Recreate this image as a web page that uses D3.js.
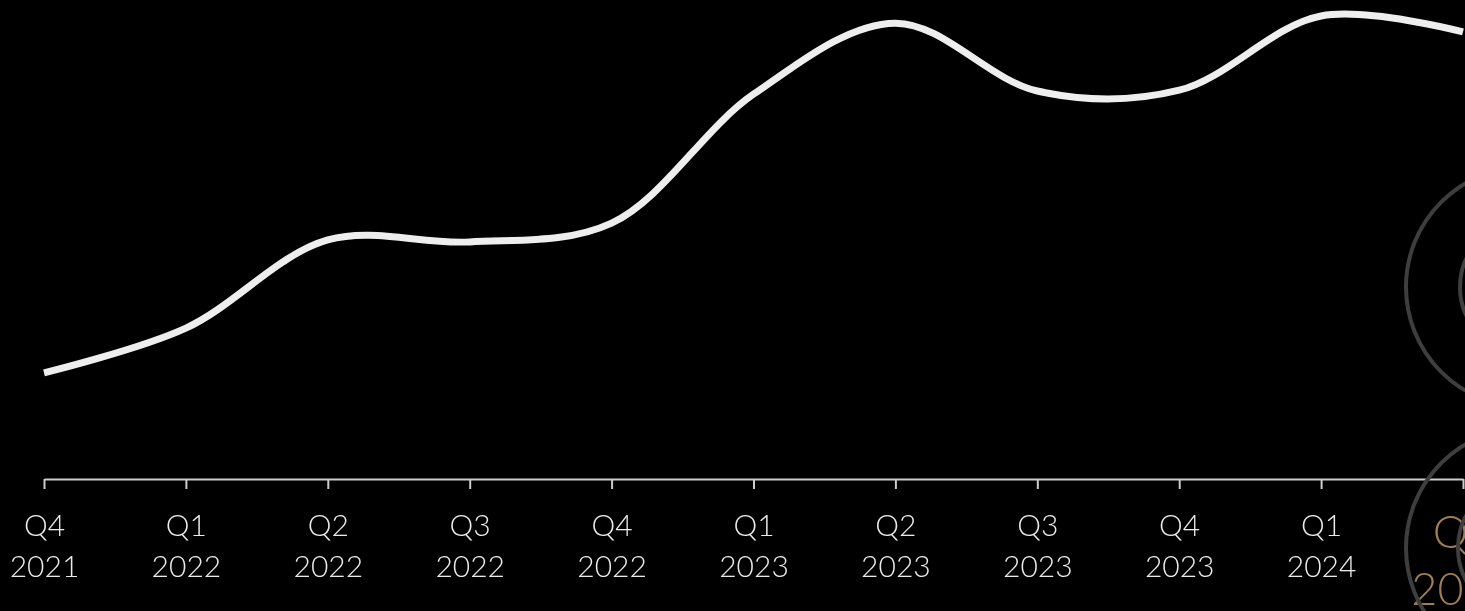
<!DOCTYPE html>
<html>
<head>
<meta charset="utf-8">
<script src="https://cdn.jsdelivr.net/npm/d3@7"></script>
<style>
  html, body { margin: 0; padding: 0; background: #000; overflow: hidden; }
  svg { display: block; }
  .tick text { font-family: Lato, "Open Sans", sans-serif; font-weight: 300; }
  .labels { opacity: 0.99; will-change: transform; }
</style>
</head>
<body>
<div id="chart"></div>
<script>
const quarters = ['Q4', 'Q1', 'Q2', 'Q3', 'Q4', 'Q1', 'Q2', 'Q3', 'Q4', 'Q1', 'Q2'];
const years = ['2021', '2022', '2022', '2022', '2022', '2023', '2023', '2023', '2023', '2024', '2024'];
const values = [26.6, 37.8, 59.9, 59.4, 64.1, 96.4, 114.2, 97.2, 97.4, 116.0, 112.0];

const width = 1465;
const height = 611;
const margin = { left: 44, right: 2, top: 0, bottom: 132 };

const keys = quarters.map((q, i) => q + ' ' + years[i]);
const data = keys.map((k, i) => ({ key: k, value: values[i] }));

const svg = d3.select('#chart').append('svg')
    .attr('width', width)
    .attr('height', height);

const x = d3.scalePoint()
    .domain(keys)
    .range([margin.left, width - margin.right]);

const y = d3.scaleLinear()
    .domain([0, 120])
    .range([height - margin.bottom, margin.top]);

// axis
const axis = svg.append('g')
    .attr('class', 'labels')
    .attr('transform', `translate(0,${height - margin.bottom})`)
    .call(d3.axisBottom(x).tickSize(10).tickSizeOuter(0).tickFormat(''));

axis.select('.domain').attr('stroke', '#d0d0d0').attr('stroke-width', 2);
axis.selectAll('.tick line').attr('stroke', '#d0d0d0').attr('stroke-width', 2);

const last = keys[keys.length - 1];

axis.selectAll('.tick text').remove();
axis.selectAll('.tick').each(function(d, i) {
    const isLast = d === last;
    const t = d3.select(this).append('text')
        .attr('text-anchor', 'middle')
        .attr('fill', isLast ? '#a27f57' : '#eeeeee')
        .style('font-size', isLast ? '45px' : '30px');
    t.append('tspan').attr('x', 0).attr('y', isLast ? 69 : 57).text(quarters[i]);
    t.append('tspan').attr('x', 0).attr('y', isLast ? 126 : 98).text(years[i]);
});

// line
const line = d3.line()
    .x(d => x(d.key))
    .y(d => y(d.value))
    .curve(d3.curveCatmullRom.alpha(0.5));

svg.append('path')
    .datum(data)
    .attr('fill', 'none')
    .attr('stroke', '#eeeeee')
    .attr('stroke-width', 7)
    .attr('d', line);

// decorative rings round the latest quarter
const rings = [
    { cy: 287, r: 120 }, { cy: 287, r: 66 },
    { cy: 548, r: 120 }, { cy: 548, r: 68 }
];
svg.append('g').selectAll('circle')
    .data(rings)
    .join('circle')
    .attr('cx', x(last) + 63)
    .attr('cy', d => d.cy)
    .attr('r', d => d.r)
    .attr('fill', 'none')
    .attr('stroke', '#3e3e3e')
    .attr('stroke-width', 4);
</script>
</body>
</html>
